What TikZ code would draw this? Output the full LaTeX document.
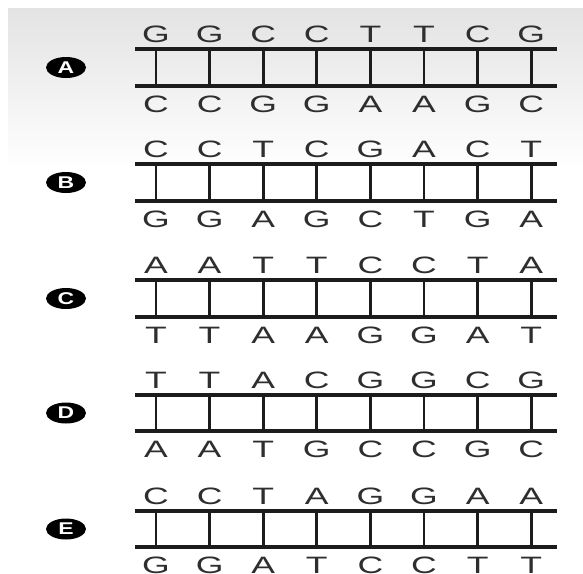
\documentclass[tikz,border=0pt]{standalone}
\usepackage{fontspec}
\usetikzlibrary{shapes.geometric}
\newfontfamily\dnafont[FakeStretch=1.5]{Liberation Sans}
\newfontfamily\badgefont[FakeStretch=1.35]{Liberation Sans}
\definecolor{inkc}{HTML}{2E2E2E}
\definecolor{railc}{HTML}{1C1C1C}
\tikzset{
  base/.style={font=\dnafont\fontsize{23.7}{24}\selectfont, text=inkc, inner sep=0pt, anchor=base},
  rail/.style={draw=railc, line width=4.2pt},
  rung/.style={draw=railc, line width=2.8pt},
  badge/.style={ellipse, fill=black, minimum width=40pt, minimum height=21pt, inner sep=0pt,
    text=white, font=\badgefont\bfseries\fontsize{17}{17}\selectfont}
}
\begin{document}
\begin{tikzpicture}[x=1pt,y=-1pt]
\useasboundingbox (0,0) rectangle (583,573);
\fill[white] (0,0) rectangle (583,573);
\shade[top color=black!11, bottom color=white] (8,8) rectangle (583,170);
\foreach \lab/\yt/\yb/\topseq/\botseq [count=\p] in {
  A/49/86/{G,G,C,C,T,T,C,G}/{C,C,G,G,A,A,G,C},
  B/164/201/{C,C,T,C,G,A,C,T}/{G,G,A,G,C,T,G,A},
  C/280/317/{A,A,T,T,C,C,T,A}/{T,T,A,A,G,G,A,T},
  D/395/431/{T,T,A,C,G,G,C,G}/{A,A,T,G,C,C,G,C},
  E/511/547/{C,C,T,A,G,G,A,A}/{G,G,A,T,C,C,T,T}} {
  \node[badge] (lab\p) at (66,{(\yt+\yb)/2}) {\lab};
  \coordinate (tl\p) at (135,\yt);
  \coordinate (tr\p) at (557,\yt);
  \coordinate (bl\p) at (135,\yb);
  \coordinate (br\p) at (557,\yb);
  \foreach \i in {1,...,8} {
    \coordinate (u\p-\i) at ({156+53.6*(\i-1)},\yt);
    \coordinate (d\p-\i) at ({156+53.6*(\i-1)},\yb);
    \draw[rung] (u\p-\i) -- (d\p-\i);
  }
  \draw[rail] (tl\p) -- (tr\p);
  \draw[rail] (bl\p) -- (br\p);
  \foreach \t [count=\i] in \topseq {
    \node[base] (t\p-\i) at ({156+53.6*(\i-1)},\yt-7) {\t};
  }
  \foreach \b [count=\i] in \botseq {
    \node[base] (b\p-\i) at ({156+53.6*(\i-1)},\yb+26) {\b};
  }
}
\end{tikzpicture}
\end{document}
